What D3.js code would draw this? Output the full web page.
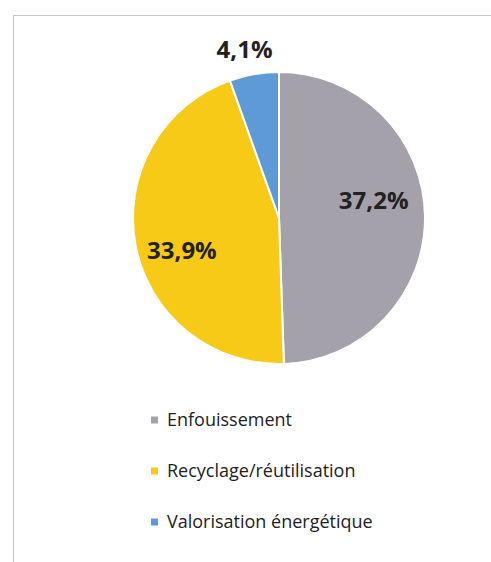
<!DOCTYPE html>
<html>
<head>
<meta charset="utf-8">
<script src="https://cdn.jsdelivr.net/npm/d3@7"></script>
<style>
  body { margin: 0; background: #fff; }
  svg { display: block; }
</style>
</head>
<body>
<script>
// data
var categories = ["Enfouissement", "Recyclage/réutilisation", "Valorisation énergétique"];
var values = [37.2, 33.9, 4.1];
var labels = ["37,2%", "33,9%", "4,1%"];

var colors = ["#a5a1ab", "#f6ca16", "#5e9bd6"];

var w = 491, h = 562;
var cx = 279, cy = 218, r = 146;
// label distance from centre for each slice (fraction of radius), like excel's "best fit"
var labelPos = [0.66, 0.7, 1.18];
var labelTurn = [-0.17, -0.13, -0.03];

var svg = d3.select("body").append("svg")
  .attr("width", w)
  .attr("height", h);

// chart frame
svg.append("rect")
  .attr("x", 13.5)
  .attr("y", 15.5)
  .attr("width", w)
  .attr("height", h)
  .attr("fill", "none")
  .attr("stroke", "#c6c6d0")
  .attr("stroke-width", 1);

var data = categories.map(function(c, i) {
  return { name: c, value: values[i], label: labels[i], i: i };
});

var pie = d3.pie()
  .sort(null)
  .value(function(d) { return d.value; });

var arc = d3.arc()
  .innerRadius(0)
  .outerRadius(r);

var g = svg.append("g")
  .attr("transform", "translate(" + cx + "," + cy + ")");

var arcs = pie(data);

g.selectAll("path")
  .data(arcs)
  .enter()
  .append("path")
  .attr("d", arc)
  .attr("fill", function(d) { return colors[d.data.i]; })
  .attr("stroke", "#fff")
  .attr("stroke-width", 2);

// percentage labels
g.selectAll("text.lab")
  .data(arcs)
  .enter()
  .append("text")
  .attr("class", "lab")
  .attr("transform", function(d) {
    var a = (d.startAngle + d.endAngle) / 2 + labelTurn[d.data.i];
    var k = r * labelPos[d.data.i];
    return "translate(" + (Math.sin(a) * k) + "," + (-Math.cos(a) * k) + ")";
  })
  .attr("text-anchor", "middle")
  .attr("dy", "0.36em")
  .style("font-family", "'Open Sans', sans-serif")
  .style("font-weight", "700")
  .style("font-size", "24px")
  .attr("fill", "#222")
  .text(function(d) { return d.data.label; });

// legend
var legend = svg.append("g")
  .attr("transform", "translate(151, 420)");

var rows = legend.selectAll("g")
  .data(data)
  .enter()
  .append("g")
  .attr("transform", function(d) { return "translate(0," + (d.i * 51) + ")"; });

rows.append("rect")
  .attr("x", 0)
  .attr("y", -3.5)
  .attr("width", 7)
  .attr("height", 7)
  .attr("fill", function(d) { return colors[d.i]; });

rows.append("text")
  .attr("x", 16)
  .attr("dy", "0.36em")
  .style("font-family", "'Open Sans', sans-serif")
  .style("font-size", "18px")
  .attr("fill", "#222")
  .text(function(d) { return d.name; });
</script>
</body>
</html>
